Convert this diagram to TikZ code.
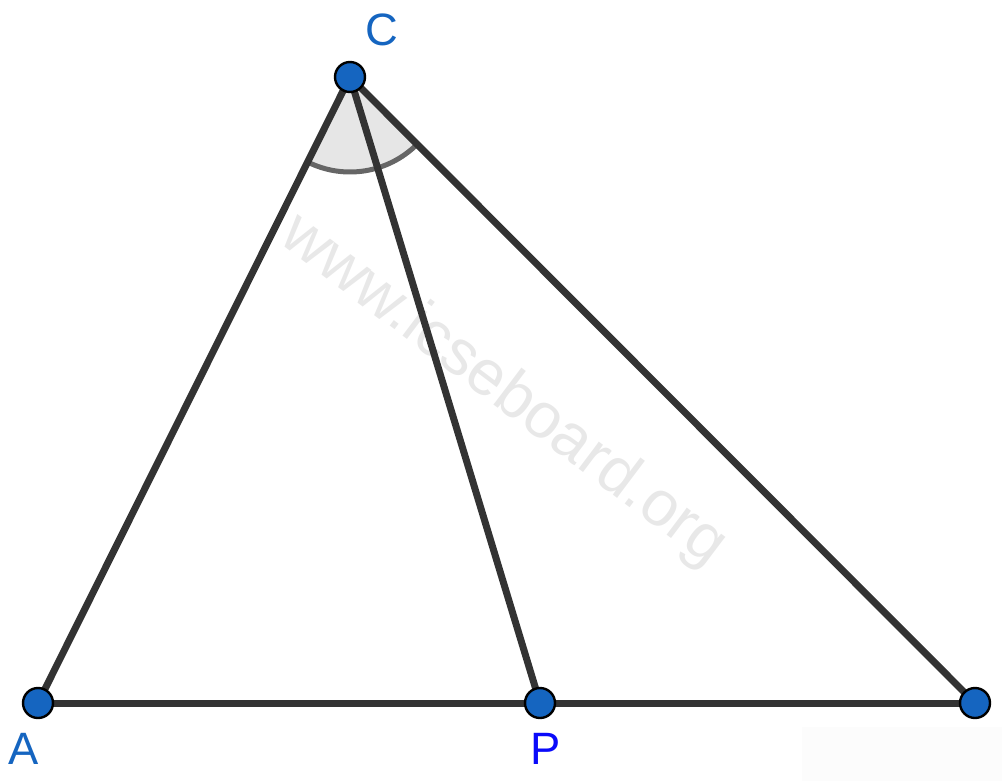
\documentclass[tikz,border=0pt]{standalone}
\usepackage{fontspec}
\setmainfont{Liberation Sans}
\definecolor{myblue}{RGB}{21, 101, 192}
\definecolor{mypureblue}{RGB}{10, 10, 250}
\definecolor{mydarkgray}{RGB}{51, 51, 51}
\definecolor{mywedge}{RGB}{230, 230, 230}
\definecolor{myarc}{RGB}{102, 102, 102}
\definecolor{mymark}{RGB}{232, 232, 232}
\usepackage{tikz}
\tikzset{every picture/.style={line width=0.75pt}}
\tikzset{
  side/.style={draw=mydarkgray, line width=5.25pt},
  vertex/.style={circle, fill=myblue, draw=black, line width=1.8pt, minimum size=22.5pt, inner sep=0pt},
  vlabel/.style={inner sep=0.75pt, font=\fontsize{34}{34}\selectfont}
}

\begin{document}
\begin{tikzpicture}[x=0.75pt,y=0.75pt,yscale=-1,xscale=1]
\useasboundingbox (0,0) rectangle (1002,781);

% Points
\coordinate (A) at (38,703);
\coordinate (P) at (540,703);
\coordinate (B) at (975,703);
\coordinate (C) at (350,77);

%Shape: faint patch
\fill [black!1] (802,727) rectangle (1002,781);

% Text Node (watermark)
\node [mymark, rotate=-37, inner sep=0pt, font=\fontsize{48}{48}\selectfont] (mark) at (503,391) {www.icseboard.org};

%Shape: angle at C
\filldraw [fill=mywedge, draw=none] (C) -- ++(116.5:95) arc [start angle=116.5, end angle=45, radius=95] -- cycle;
\draw [myarc, line width=3.75pt] (C) ++(116.5:95) arc [start angle=116.5, end angle=45, radius=95];

% Sides
\draw [side] (A) -- (B);
\draw [side] (C) -- (A);
\draw [side] (C) -- (P);
\draw [side] (C) -- (B);

% Vertices
\node [vertex] (dotA) at (A) {};
\node [vertex] (dotP) at (P) {};
\node [vertex] (dotB) at (B) {};
\node [vertex] (dotC) at (C) {};

% Text Node
\node [vlabel, text=myblue] (labC) at (381.5,30) {C};
% Text Node
\node [vlabel, text=myblue] (labA) at (24,749) {A};
% Text Node
\node [vlabel, text=mypureblue] (labP) at (546,749) {P};

\end{tikzpicture}
\end{document}
